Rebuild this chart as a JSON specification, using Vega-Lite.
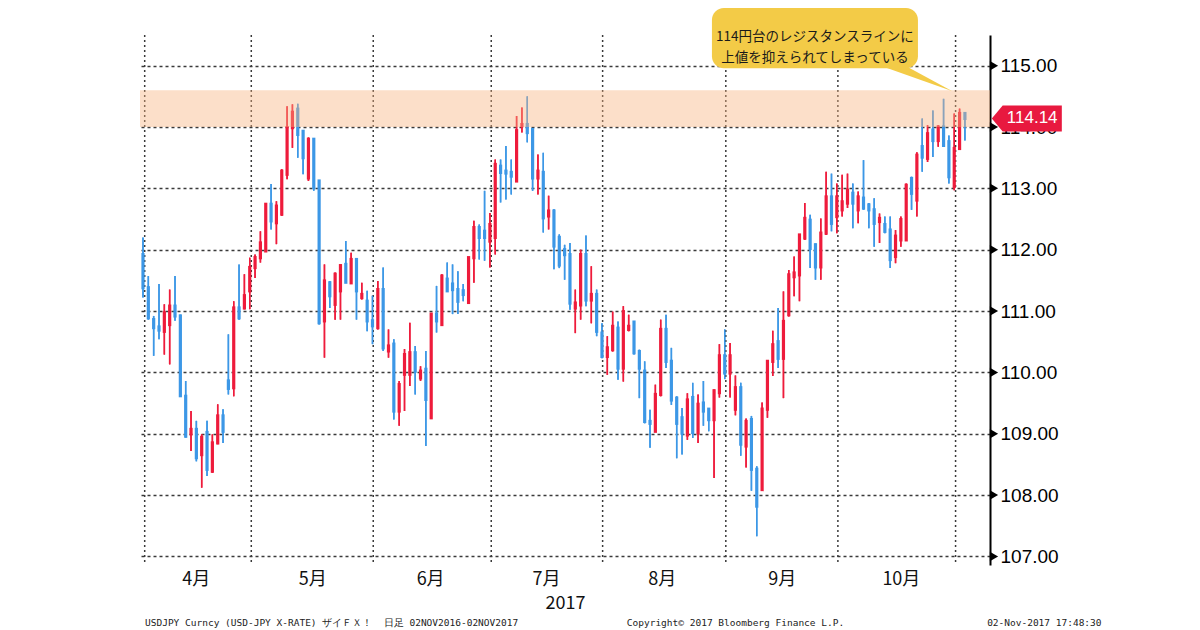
{
  "$schema": "https://vega.github.io/schema/vega-lite/v6.json",
  "description": "USDJPY daily candles, Apr-Nov 2017, with the 114 yen resistance band",
  "width": 850,
  "height": 530,
  "autosize": "none",
  "padding": {"left": 140, "top": 35, "right": 210, "bottom": 65},
  "background": "white",
  "config": {"view": {"stroke": null}, "font": "Liberation Sans"},
  "title": {
    "text": "USDJPY Curncy (USD-JPY X-RATE) ザイＦＸ！\u00a0\u00a0日足 02NOV2016-02NOV2017\u00a0\u00a0\u00a0\u00a0\u00a0\u00a0\u00a0\u00a0\u00a0\u00a0\u00a0\u00a0\u00a0\u00a0\u00a0\u00a0\u00a0\u00a0\u00a0Copyright© 2017 Bloomberg Finance L.P.\u00a0\u00a0\u00a0\u00a0\u00a0\u00a0\u00a0\u00a0\u00a0\u00a0\u00a0\u00a0\u00a0\u00a0\u00a0\u00a0\u00a0\u00a0\u00a0\u00a0\u00a0\u00a0\u00a0\u00a0\u00a002-Nov-2017 17:48:30",
    "orient": "bottom",
    "anchor": "start",
    "frame": "group",
    "offset": 6,
    "dx": 5,
    "font": "DejaVu Sans Mono",
    "fontSize": 9.5,
    "fontWeight": "normal",
    "color": "#222222"
  },
  "datasets": {
    "usdjpy": [
      {"i":0,"o":111.92,"h":112.2,"l":111.22,"c":111.38},
      {"i":1,"o":111.38,"h":111.57,"l":110.86,"c":110.89},
      {"i":2,"o":110.86,"h":110.92,"l":110.27,"c":110.73},
      {"i":3,"o":110.74,"h":111.44,"l":110.54,"c":110.69},
      {"i":4,"o":110.67,"h":111.11,"l":110.29,"c":110.97},
      {"i":5,"o":110.78,"h":111.35,"l":110.13,"c":111.08},
      {"i":6,"o":111.08,"h":111.57,"l":110.84,"c":110.92},
      {"i":7,"o":110.92,"h":110.94,"l":109.61,"c":109.62},
      {"i":8,"o":109.61,"h":109.86,"l":108.94,"c":108.96},
      {"i":9,"o":109.0,"h":109.37,"l":108.72,"c":109.07},
      {"i":10,"o":109.07,"h":109.21,"l":108.55,"c":108.61},
      {"i":11,"o":108.66,"h":108.99,"l":108.12,"c":108.94},
      {"i":12,"o":109.02,"h":109.21,"l":108.31,"c":108.42},
      {"i":13,"o":108.39,"h":108.99,"l":108.36,"c":108.85},
      {"i":14,"o":108.85,"h":109.48,"l":108.83,"c":109.29},
      {"i":15,"o":109.29,"h":109.4,"l":108.85,"c":109.04},
      {"i":16,"o":109.86,"h":110.62,"l":109.64,"c":109.74},
      {"i":17,"o":109.75,"h":111.16,"l":109.61,"c":111.05},
      {"i":18,"o":111.05,"h":111.76,"l":110.86,"c":110.89},
      {"i":19,"o":111.05,"h":111.6,"l":111.03,"c":111.25},
      {"i":20,"o":111.33,"h":111.87,"l":111.03,"c":111.71},
      {"i":21,"o":111.71,"h":111.92,"l":111.54,"c":111.87},
      {"i":22,"o":111.87,"h":112.3,"l":111.79,"c":112.11},
      {"i":23,"o":111.98,"h":112.74,"l":111.98,"c":112.74},
      {"i":24,"o":112.74,"h":113.07,"l":112.33,"c":112.47},
      {"i":25,"o":112.44,"h":112.79,"l":112.09,"c":112.71},
      {"i":26,"o":112.58,"h":113.31,"l":112.55,"c":113.28},
      {"i":27,"o":113.23,"h":114.34,"l":113.15,"c":113.99},
      {"i":28,"o":113.99,"h":114.37,"l":113.66,"c":114.24},
      {"i":29,"o":114.29,"h":114.38,"l":113.5,"c":113.88},
      {"i":30,"o":113.93,"h":113.94,"l":113.23,"c":113.5},
      {"i":31,"o":113.17,"h":113.83,"l":113.12,"c":113.8},
      {"i":32,"o":113.8,"h":113.81,"l":112.96,"c":113.01},
      {"i":33,"o":113.12,"h":113.13,"l":110.78,"c":110.81},
      {"i":34,"o":110.84,"h":111.76,"l":110.24,"c":111.49},
      {"i":35,"o":111.46,"h":111.49,"l":111.05,"c":111.25},
      {"i":36,"o":111.11,"h":111.63,"l":110.86,"c":111.6},
      {"i":37,"o":111.33,"h":111.76,"l":110.86,"c":111.74},
      {"i":38,"o":111.76,"h":112.14,"l":111.46,"c":111.47},
      {"i":39,"o":111.46,"h":111.95,"l":111.46,"c":111.84},
      {"i":40,"o":111.84,"h":111.85,"l":110.86,"c":111.33},
      {"i":41,"o":111.22,"h":111.46,"l":111.19,"c":111.27},
      {"i":42,"o":111.16,"h":111.33,"l":110.67,"c":110.84},
      {"i":43,"o":110.84,"h":111.25,"l":110.46,"c":110.76},
      {"i":44,"o":110.73,"h":111.49,"l":110.7,"c":111.35},
      {"i":45,"o":111.35,"h":111.71,"l":110.35,"c":110.4},
      {"i":46,"o":110.35,"h":110.7,"l":110.24,"c":110.43},
      {"i":47,"o":110.46,"h":110.54,"l":109.23,"c":109.37},
      {"i":48,"o":109.37,"h":109.86,"l":109.13,"c":109.8},
      {"i":49,"o":109.97,"h":110.38,"l":109.37,"c":110.29},
      {"i":50,"o":109.97,"h":110.81,"l":109.78,"c":110.32},
      {"i":51,"o":110.32,"h":110.43,"l":109.64,"c":110.02},
      {"i":52,"o":109.91,"h":110.1,"l":109.86,"c":110.02},
      {"i":53,"o":110.05,"h":110.35,"l":108.8,"c":109.56},
      {"i":54,"o":109.26,"h":110.95,"l":109.26,"c":110.95},
      {"i":55,"o":110.95,"h":111.41,"l":110.65,"c":110.84},
      {"i":56,"o":110.78,"h":111.6,"l":110.76,"c":111.57},
      {"i":57,"o":111.52,"h":111.79,"l":111.33,"c":111.33},
      {"i":58,"o":111.44,"h":111.76,"l":110.95,"c":111.35},
      {"i":59,"o":111.35,"h":111.65,"l":110.95,"c":111.16},
      {"i":60,"o":111.33,"h":111.44,"l":111.16,"c":111.27},
      {"i":61,"o":111.14,"h":111.87,"l":111.14,"c":111.87},
      {"i":62,"o":111.87,"h":112.47,"l":111.46,"c":112.36},
      {"i":63,"o":112.36,"h":112.41,"l":111.84,"c":112.2},
      {"i":64,"o":112.3,"h":112.96,"l":111.82,"c":112.2},
      {"i":65,"o":112.14,"h":112.6,"l":111.71,"c":112.41},
      {"i":66,"o":112.2,"h":113.47,"l":111.92,"c":113.39},
      {"i":67,"o":113.36,"h":113.47,"l":112.77,"c":113.26},
      {"i":68,"o":113.28,"h":113.69,"l":112.82,"c":113.25},
      {"i":69,"o":113.26,"h":113.47,"l":112.9,"c":113.2},
      {"i":70,"o":113.12,"h":114.18,"l":113.12,"c":113.94},
      {"i":71,"o":114.02,"h":114.32,"l":113.91,"c":114.04},
      {"i":72,"o":114.04,"h":114.5,"l":113.75,"c":113.91},
      {"i":73,"o":113.96,"h":113.96,"l":112.96,"c":113.17},
      {"i":74,"o":113.17,"h":113.55,"l":112.9,"c":113.28},
      {"i":75,"o":113.26,"h":113.58,"l":112.28,"c":112.52},
      {"i":76,"o":112.55,"h":112.88,"l":112.33,"c":112.63},
      {"i":77,"o":112.63,"h":112.66,"l":111.68,"c":112.06},
      {"i":78,"o":112.2,"h":112.25,"l":111.7,"c":111.75},
      {"i":79,"o":112.0,"h":112.08,"l":111.51,"c":111.92},
      {"i":80,"o":111.92,"h":112.11,"l":111.02,"c":111.13},
      {"i":81,"o":111.05,"h":111.35,"l":110.64,"c":111.13},
      {"i":82,"o":111.1,"h":112.0,"l":110.86,"c":111.92},
      {"i":83,"o":111.92,"h":112.23,"l":111.08,"c":111.18},
      {"i":84,"o":111.18,"h":111.73,"l":110.8,"c":111.27},
      {"i":85,"o":111.27,"h":111.35,"l":110.59,"c":110.67},
      {"i":86,"o":110.64,"h":110.8,"l":110.23,"c":110.26},
      {"i":87,"o":110.26,"h":110.59,"l":109.96,"c":110.4},
      {"i":88,"o":110.37,"h":110.99,"l":110.34,"c":110.75},
      {"i":89,"o":110.72,"h":110.83,"l":109.88,"c":110.07},
      {"i":90,"o":110.07,"h":111.08,"l":109.85,"c":110.99},
      {"i":91,"o":110.7,"h":110.94,"l":110.67,"c":110.75},
      {"i":92,"o":110.82,"h":110.83,"l":110.29,"c":110.32},
      {"i":93,"o":110.34,"h":110.37,"l":109.58,"c":110.07},
      {"i":94,"o":110.02,"h":110.18,"l":109.17,"c":109.2},
      {"i":95,"o":109.2,"h":109.39,"l":108.77,"c":109.17},
      {"i":96,"o":109.04,"h":109.8,"l":109.04,"c":109.64},
      {"i":97,"o":109.64,"h":110.86,"l":109.61,"c":110.7},
      {"i":98,"o":110.7,"h":110.94,"l":110.07,"c":110.18},
      {"i":99,"o":110.18,"h":110.4,"l":109.47,"c":109.55},
      {"i":100,"o":109.58,"h":109.61,"l":108.6,"c":109.17},
      {"i":101,"o":109.26,"h":109.42,"l":108.66,"c":109.01},
      {"i":102,"o":108.98,"h":109.66,"l":108.9,"c":109.55},
      {"i":103,"o":109.59,"h":109.83,"l":108.93,"c":109.02},
      {"i":104,"o":109.02,"h":109.64,"l":108.85,"c":109.48},
      {"i":105,"o":109.5,"h":109.86,"l":109.13,"c":109.37},
      {"i":106,"o":109.4,"h":109.41,"l":109.04,"c":109.23},
      {"i":107,"o":109.23,"h":109.72,"l":108.28,"c":109.7},
      {"i":108,"o":109.67,"h":110.46,"l":109.59,"c":110.27},
      {"i":109,"o":110.27,"h":110.7,"l":109.89,"c":109.99},
      {"i":110,"o":109.99,"h":110.48,"l":109.59,"c":110.27},
      {"i":111,"o":109.4,"h":109.95,"l":109.3,"c":109.75},
      {"i":112,"o":109.75,"h":109.83,"l":108.64,"c":108.83},
      {"i":113,"o":108.8,"h":109.25,"l":108.45,"c":109.2},
      {"i":114,"o":109.23,"h":109.29,"l":108.07,"c":108.42},
      {"i":115,"o":108.42,"h":108.47,"l":107.33,"c":107.82},
      {"i":116,"o":108.09,"h":109.51,"l":108.09,"c":109.4},
      {"i":117,"o":109.4,"h":110.18,"l":109.26,"c":110.18},
      {"i":118,"o":110.18,"h":110.68,"l":109.94,"c":110.45},
      {"i":119,"o":110.5,"h":111.05,"l":110.07,"c":110.23},
      {"i":120,"o":110.23,"h":111.32,"l":109.58,"c":110.83},
      {"i":121,"o":110.94,"h":111.67,"l":110.91,"c":111.59},
      {"i":122,"o":111.56,"h":111.89,"l":111.24,"c":111.62},
      {"i":123,"o":111.59,"h":112.24,"l":111.16,"c":112.24},
      {"i":124,"o":112.19,"h":112.76,"l":112.16,"c":112.51},
      {"i":125,"o":112.48,"h":112.57,"l":111.7,"c":112.02},
      {"i":126,"o":112.08,"h":112.1,"l":111.51,"c":111.72},
      {"i":127,"o":111.72,"h":112.51,"l":111.51,"c":112.27},
      {"i":128,"o":112.27,"h":113.27,"l":112.24,"c":112.86},
      {"i":129,"o":112.86,"h":113.24,"l":112.3,"c":112.43},
      {"i":130,"o":112.54,"h":113.08,"l":112.27,"c":112.86},
      {"i":131,"o":112.65,"h":113.22,"l":112.54,"c":112.78},
      {"i":132,"o":112.76,"h":113.24,"l":112.68,"c":112.97},
      {"i":133,"o":112.92,"h":113.08,"l":112.35,"c":112.76},
      {"i":134,"o":112.65,"h":112.95,"l":112.43,"c":112.86},
      {"i":135,"o":112.84,"h":113.46,"l":112.65,"c":112.68},
      {"i":136,"o":112.73,"h":112.76,"l":112.35,"c":112.65},
      {"i":137,"o":112.65,"h":112.84,"l":112.05,"c":112.43},
      {"i":138,"o":112.46,"h":112.59,"l":112.11,"c":112.51},
      {"i":139,"o":112.41,"h":112.54,"l":112.27,"c":112.3},
      {"i":140,"o":112.32,"h":112.54,"l":111.7,"c":111.84},
      {"i":141,"o":111.89,"h":112.32,"l":111.78,"c":112.22},
      {"i":142,"o":112.16,"h":112.54,"l":112.05,"c":112.49},
      {"i":143,"o":112.16,"h":113.08,"l":112.16,"c":113.05},
      {"i":144,"o":113.16,"h":113.19,"l":112.65,"c":112.92},
      {"i":145,"o":112.81,"h":113.59,"l":112.54,"c":113.54},
      {"i":146,"o":113.68,"h":114.14,"l":113.27,"c":113.51},
      {"i":147,"o":113.49,"h":114.03,"l":113.43,"c":113.89},
      {"i":148,"o":113.95,"h":114.27,"l":113.51,"c":113.78},
      {"i":149,"o":113.78,"h":114.03,"l":113.68,"c":114.0},
      {"i":150,"o":114.0,"h":114.46,"l":113.68,"c":113.7},
      {"i":151,"o":113.76,"h":113.86,"l":113.08,"c":113.19},
      {"i":152,"o":113.03,"h":114.22,"l":112.97,"c":113.65},
      {"i":153,"o":113.65,"h":114.3,"l":113.65,"c":114.22},
      {"i":154,"o":114.22,"h":114.24,"l":113.78,"c":114.14}
    ],
    "months": [
      {"m": "4月", "start": 0.32},
      {"m": "5月", "start": 20.29},
      {"m": "6月", "start": 43.14},
      {"m": "7月", "start": 65.25},
      {"m": "8月", "start": 86.12},
      {"m": "9月", "start": 109.2},
      {"m": "10月", "start": 130.2},
      {"m": "11月", "start": 152.25}
    ],
    "levels": [
      {"lv": 107}, {"lv": 108}, {"lv": 109}, {"lv": 110}, {"lv": 111},
      {"lv": 112}, {"lv": 113}, {"lv": 114}, {"lv": 115}
    ]
  },
  "layer": [
    {
      "data": {"name": "usdjpy"},
      "mark": {"type": "rule", "strokeWidth": 1.5},
      "encoding": {
        "x": {
          "field": "i",
          "type": "quantitative",
          "scale": {"domain": [-0.56, 158.7], "nice": false, "zero": false},
          "axis": {
            "values": [9.9, 31.7, 53.8, 75.5, 97.2, 119.7, 142.0],
            "labelExpr": "datum.value < 20 ? '4月' : datum.value < 43 ? '5月' : datum.value < 65 ? '6月' : datum.value < 86 ? '7月' : datum.value < 109 ? '8月' : datum.value < 130 ? '9月' : '10月'",
            "grid": false,
            "ticks": false,
            "domain": false,
            "labelFont": "Noto Sans CJK JP",
            "labelFontSize": 18,
            "labelColor": "#111111",
            "labelPadding": 5,
            "labelOverlap": false,
            "labelFlush": false,
            "title": "2017",
            "titleFont": "Noto Sans CJK JP",
            "titleFontSize": 18,
            "titleFontWeight": "normal",
            "titleColor": "#111111",
            "titlePadding": 6
          }
        },
        "y": {
          "field": "l",
          "type": "quantitative",
          "scale": {"domain": [106.86, 115.5], "nice": false, "zero": false},
          "axis": {
            "orient": "right",
            "title": null,
            "values": [107, 107.5, 108, 108.5, 109, 109.5, 110, 110.5, 111, 111.5, 112, 112.5, 113, 113.5, 114, 114.5, 115],
            "grid": true,
            "gridColor": "#3a3a3a",
            "gridWidth": 1.5,
            "gridDash": [3, 3],
            "gridOpacity": {"condition": {"test": "datum.value % 1 !== 0", "value": 0}, "value": 1},
            "domainColor": "black",
            "domainWidth": 2,
            "tickColor": "black",
            "tickSize": 7,
            "tickWidth": 1.5,
            "tickOpacity": {"condition": {"test": "datum.value % 1 === 0", "value": 0}, "value": 1},
            "labelExpr": "datum.value % 1 === 0 ? format(datum.value, '.2f') : ''",
            "labelFont": "Liberation Sans",
            "labelFontSize": 19,
            "labelColor": "black",
            "labelPadding": 3,
            "labelOverlap": false,
            "labelFlush": false
          }
        },
        "y2": {"field": "h"},
        "color": {"condition": {"test": "datum.c >= datum.o", "value": "#EE1B3B"}, "value": "#3C97E6"}
      }
    },
    {
      "data": {"name": "months"},
      "mark": {"type": "rule", "color": "#3a3a3a", "strokeWidth": 1.5, "strokeDash": [2, 3]},
      "encoding": {
        "x": {"field": "start", "type": "quantitative"}
      }
    },
    {
      "data": {"name": "usdjpy"},
      "mark": {"type": "rule", "strokeWidth": 1.5},
      "encoding": {
        "x": {"field": "i", "type": "quantitative"},
        "y": {"field": "l", "type": "quantitative"},
        "y2": {"field": "h"},
        "color": {"condition": {"test": "datum.c >= datum.o", "value": "#EE1B3B"}, "value": "#3C97E6"}
      }
    },
    {
      "data": {"name": "usdjpy"},
      "mark": {"type": "rule", "strokeWidth": 3.2, "strokeCap": "square"},
      "encoding": {
        "x": {"field": "i", "type": "quantitative"},
        "y": {"field": "o", "type": "quantitative"},
        "y2": {"field": "c"},
        "color": {"condition": {"test": "datum.c >= datum.o", "value": "#EE1B3B"}, "value": "#3C97E6"}
      }
    },
    {
      "data": {"values": [{"lo": 114.0, "hi": 114.6}]},
      "mark": {"type": "rect", "color": "#F7B27F", "opacity": 0.42},
      "encoding": {
        "x": {"datum": -0.56, "type": "quantitative"},
        "x2": {"datum": 158.7},
        "y": {"field": "hi", "type": "quantitative"},
        "y2": {"field": "lo"}
      }
    },
    {
      "data": {"name": "levels"},
      "mark": {"type": "point", "shape": "triangle-right", "filled": true, "color": "black", "opacity": 1, "size": 90, "xOffset": 4},
      "encoding": {
        "x": {"datum": 158.7, "type": "quantitative"},
        "y": {"field": "lv", "type": "quantitative"}
      }
    },
    {
      "data": {"values": [{"last": 114.14}]},
      "layer": [
        {
          "mark": {"type": "point", "shape": "M-1,0L-0.69,-0.37L1,-0.37L1,0.37L-0.69,0.37Z", "filled": true, "color": "#E8193F", "opacity": 1, "size": 4900},
          "encoding": {
            "x": {"datum": 165.6, "type": "quantitative"},
            "y": {"field": "last", "type": "quantitative"}
          }
        },
        {
          "mark": {"type": "text", "color": "white", "font": "Liberation Sans", "fontSize": 17, "align": "center", "baseline": "middle"},
          "encoding": {
            "x": {"datum": 166.6, "type": "quantitative"},
            "y": {"field": "last", "type": "quantitative"},
            "text": {"field": "last", "type": "quantitative", "format": ".2f"}
          }
        }
      ]
    },
    {
      "data": {"values": [{"note": ["114円台のレジスタンスラインに", "上値を抑えられてしまっている"]}]},
      "layer": [
        {
          "mark": {"type": "point", "shape": "M0,-0.03L0.3125,-0.03L0.9,0.2875Z", "filled": true, "color": "#F3CB47", "opacity": 1, "size": 25600},
          "encoding": {
            "x": {"datum": 138.07, "type": "quantitative"},
            "y": {"datum": 114.962, "type": "quantitative"}
          }
        },
        {
          "mark": {"type": "rect", "color": "#F3CB47", "cornerRadius": 12},
          "encoding": {
            "x": {"datum": 106.6, "type": "quantitative"},
            "x2": {"datum": 145.2},
            "y": {"datum": 115.94, "type": "quantitative"},
            "y2": {"datum": 114.96}
          }
        },
        {
          "mark": {"type": "text", "font": "Noto Sans CJK JP", "fontSize": 13.5, "color": "#1a1a1a", "align": "center", "baseline": "middle", "lineHeight": 21},
          "encoding": {
            "x": {"datum": 125.9, "type": "quantitative"},
            "y": {"datum": 115.46, "type": "quantitative"},
            "text": {"field": "note"}
          }
        }
      ]
    }
  ]
}
